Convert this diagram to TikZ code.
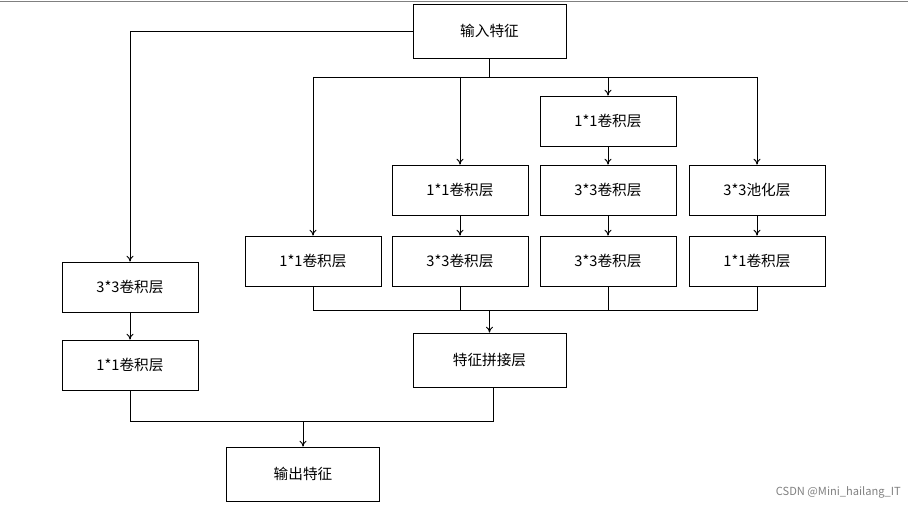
\documentclass[tikz,border=0pt]{standalone}
\usepackage{fontspec}
\setmainfont{Noto Sans CJK SC}
\usetikzlibrary{arrows.meta}
\begin{document}
\begin{tikzpicture}[x=0.03cm,y=-0.03cm,
  bx/.style={draw,thick,minimum width=4.08cm,minimum height=1.5cm,inner sep=0pt,font=\fontsize{12.5}{14}\selectfont},
  wide/.style={bx,minimum width=4.59cm,minimum height=1.62cm},
  ar/.style={-{To[length=5pt,width=6pt]},thick},
  ln/.style={thick}]
\useasboundingbox (0,0) rectangle (908,508);
\draw[thick,gray] (0,1) -- (908,1);
\node[wide] (in) at (489.5,31) {输入特征};
\node[bx] (c3a) at (608,121) {1*1卷积层};
\node[bx] (c2a) at (460,190) {1*1卷积层};
\node[bx] (c3b) at (608,190) {3*3卷积层};
\node[bx] (c4a) at (757,190) {3*3池化层};
\node[bx] (c1b) at (313,261) {1*1卷积层};
\node[bx] (c2b) at (460,261) {3*3卷积层};
\node[bx] (c3c) at (608,261) {3*3卷积层};
\node[bx] (c4b) at (757,261) {1*1卷积层};
\node[bx] (l1) at (130,287) {3*3卷积层};
\node[bx] (l2) at (130,365) {1*1卷积层};
\node[wide] (cat) at (489.5,360) {特征拼接层};
\node[wide] (out) at (303,474) {输出特征};
\node[gray,font=\fontsize{9.5}{11}\selectfont,anchor=east] (wm) at (905,492) {CSDN @Mini\_hailang\_IT};
% left branch
\draw[ar] (in.west) -| (l1.north);
\draw[ar] (l1) -- (l2);
% top split
\coordinate (sp) at (489.5,77);
\draw[ln] (in.south) -- (sp);
\draw[ln] (c1b.north |- sp) -- (c4a.north |- sp);
\draw[ar] (c1b.north |- sp) -- (c1b.north);
\draw[ar] (c2a.north |- sp) -- (c2a.north);
\draw[ar] (c3a.north |- sp) -- (c3a.north);
\draw[ar] (c4a.north |- sp) -- (c4a.north);
\draw[ar] (c2a) -- (c2b);
\draw[ar] (c3a) -- (c3b);
\draw[ar] (c3b) -- (c3c);
\draw[ar] (c4a) -- (c4b);
% merge
\coordinate (mg) at (489.5,310);
\draw[ln] (c1b.south) -- (c1b.south |- mg) -- (c4b.south |- mg) -- (c4b.south);
\draw[ln] (c2b.south) -- (c2b.south |- mg);
\draw[ln] (c3c.south) -- (c3c.south |- mg);
\draw[ar] (mg) -- (cat.north);
% output
\coordinate (og) at (303,421);
\draw[ln] (l2.south) -- (l2.south |- og) -- (493,421) -- (493,387);
\draw[ar] (og) -- (out.north);
\end{tikzpicture}
\end{document}
